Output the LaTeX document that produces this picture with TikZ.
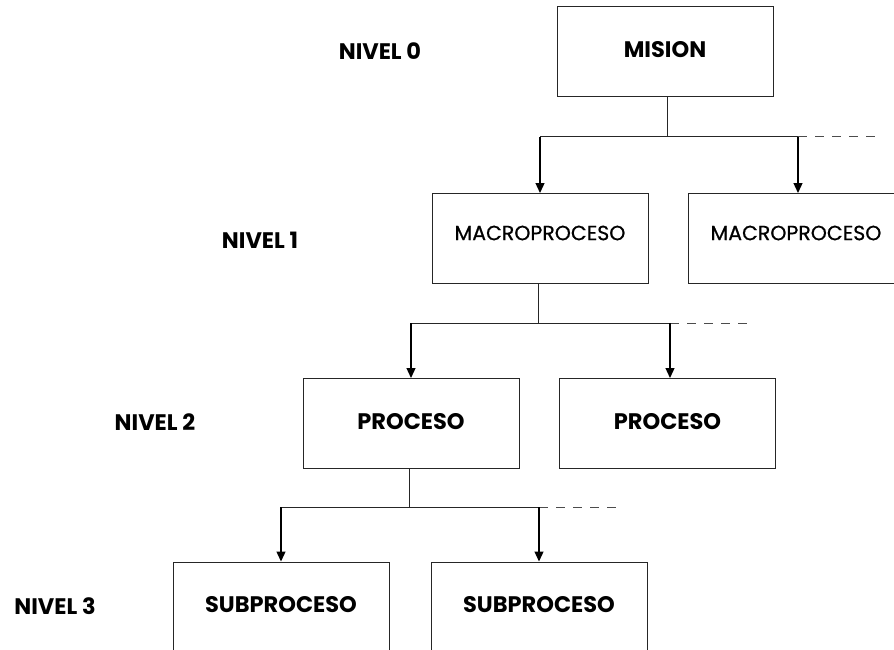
\documentclass[tikz,border=0pt]{standalone}
\usepackage{fontspec}
\setmainfont{Poppins}
\newfontfamily\popmed{Poppins}[FakeBold=0.7]
\usetikzlibrary{arrows.meta}
\begin{document}
\begin{tikzpicture}[x=1pt,y=-1pt,
  box/.style={draw=black!85,line width=1pt,minimum width=216pt,minimum height=90pt,inner sep=0pt},
  boldtxt/.style={font=\fontsize{22.5}{24}\selectfont\bfseries,inner sep=0pt},
  regtxt/.style={font=\fontsize{20.5}{24}\selectfont\popmed,inner sep=0pt},
  lvl/.style={font=\fontsize{22.5}{24}\selectfont\bfseries,inner sep=0pt},
  conn/.style={draw=black!85,line width=1pt},
  arr/.style={draw=black,line width=1.3pt,-{Triangle[width=9pt,length=10pt]}},
  dsh/.style={draw=black!70,line width=1pt,dash pattern=on 9pt off 8pt}]
\useasboundingbox (0,0) rectangle (894,650);
\begin{scope}
\clip (0,0) rectangle (894,650);
% boxes
\node[box] (mision) at (665,52) {};
\node[box] (m1) at (540,238.5) {};
\node[box] (m2) at (796,238.5) {};
\node[box] (p1) at (411,423.5) {};
\node[box] (p2) at (667.5,423.5) {};
\node[box] (s1) at (281,607) {};
\node[box] (s2) at (539,607) {};
% texts
\node[boldtxt] (tmision) at (665,50) {MISION};
\node[regtxt] (tm1) at (540,233) {MACROPROCESO};
\node[regtxt] (tm2) at (796,233) {MACROPROCESO};
\node[boldtxt] (tp1) at (411,422) {PROCESO};
\node[boldtxt] (tp2) at (667.5,422) {PROCESO};
\node[boldtxt] (ts1) at (281,605) {SUBPROCESO};
\node[boldtxt] (ts2) at (539,605) {SUBPROCESO};
% level labels
\node[lvl] (n0) at (380,51) {NIVEL 0};
\node[lvl] (n1) at (260,240) {NIVEL 1};
\node[lvl] (n2) at (155,422) {NIVEL 2};
\node[lvl] (n3) at (55,606) {NIVEL 3};
% connectors level 0 -> 1
\coordinate (j0) at (667,137);
\coordinate (a0l) at (540,137);
\coordinate (a0r) at (798,137);
\coordinate (d0) at (877,137);
\draw[conn] (mision.south -| j0) -- (j0);
\draw[conn] (a0l) -- (a0r);
\draw[dsh] (a0r) -- (d0);
\draw[arr] (a0l) -- (m1.north);
\draw[arr] (a0r) -- (a0r |- m2.north);
% level 1 -> 2
\coordinate (j1) at (538,323);
\coordinate (a1l) at (411,323);
\coordinate (a1r) at (670,323);
\coordinate (d1) at (748,323);
\draw[conn] (m1.south -| j1) -- (j1);
\draw[conn] (a1l) -- (a1r);
\draw[dsh] (a1r) -- (d1);
\draw[arr] (a1l) -- (p1.north);
\draw[arr] (a1r) -- (a1r |- p2.north);
% level 2 -> 3
\coordinate (j2) at (409,507);
\coordinate (a2l) at (281,507);
\coordinate (a2r) at (539,507);
\coordinate (d2) at (620,507);
\draw[conn] (p1.south -| j2) -- (j2);
\draw[conn] (a2l) -- (a2r);
\draw[dsh] (a2r) -- (d2);
\draw[arr] (a2l) -- (s1.north);
\draw[arr] (a2r) -- (s2.north);
\end{scope}
\end{tikzpicture}
\end{document}
